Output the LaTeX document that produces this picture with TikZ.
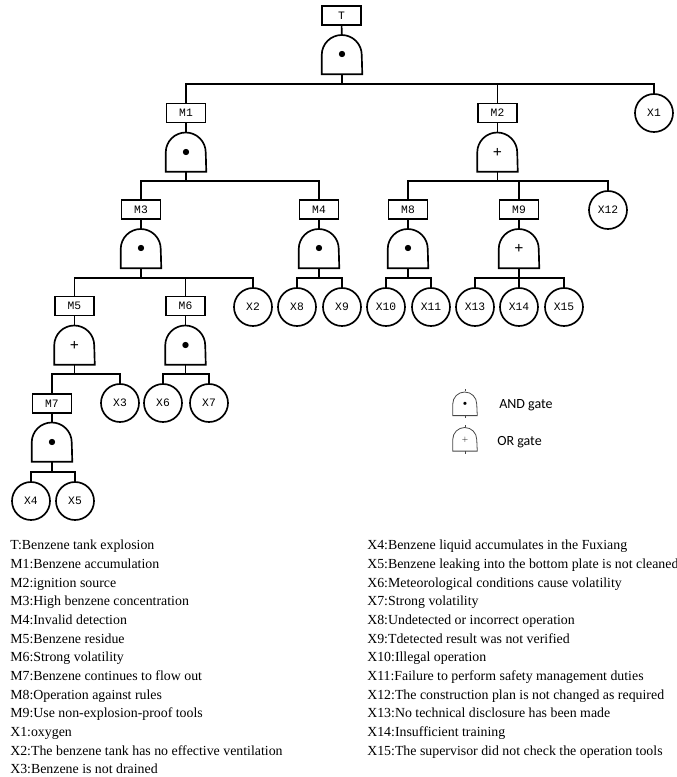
\documentclass[tikz,border=0pt]{standalone}
\usepackage{fontspec}
\setmainfont{Liberation Serif}
\setmonofont{Liberation Mono}
\newfontfamily\keyfont{Carlito}
\usetikzlibrary{positioning, calc}
\definecolor{iconline}{RGB}{70,70,70}
\begin{document}
\begin{tikzpicture}[x=0.75pt, y=-0.75pt,
  wire/.style={line width=1.25pt},
  evt/.style={draw, line width=1.25pt, minimum width=29.25pt, minimum height=14.25pt, inner sep=0pt, font=\ttfamily\fontsize{8.5}{8.5}\selectfont},
  basic/.style={draw, circle, line width=1.25pt, minimum size=28.5pt, inner sep=0pt, font=\ttfamily\fontsize{8.5}{8.5}\selectfont},
  gate/.style={minimum width=30pt, minimum height=28.5pt, inner sep=0pt, font=\bfseries\large},
  keygate/.style={minimum width=18pt, minimum height=17pt, inner sep=0pt, font=\tiny},
  keytext/.style={anchor=west, inner sep=0pt, font=\keyfont\fontsize{10.5}{12}\selectfont},
  desc/.style={anchor=north west, align=left, inner sep=0pt, font=\fontsize{10.4}{14}\selectfont}]
\useasboundingbox (0,0) rectangle (677,777);
\node[evt] (T) at (341.5,15.5) {T};
\node[gate] (gT) at (342,55) {$\bullet$};
\node[evt] (M1) at (186,113) {M1};
\node[gate] (gM1) at (186,152.5) {$\bullet$};
\node[evt] (M2) at (497.5,113) {M2};
\node[gate] (gM2) at (497.5,152.5) {+};
\node[basic] (X1) at (654,113) {X1};
\node[evt] (M3) at (141,209.5) {M3};
\node[gate] (gM3) at (141,249) {$\bullet$};
\node[evt] (M4) at (319,209.5) {M4};
\node[gate] (gM4) at (319,249) {$\bullet$};
\node[evt] (M8) at (408,209.5) {M8};
\node[gate] (gM8) at (408,249) {$\bullet$};
\node[evt] (M9) at (519,209.5) {M9};
\node[gate] (gM9) at (519,249) {+};
\node[basic] (X12) at (608,210) {X12};
\node[evt] (M5) at (74.5,306) {M5};
\node[gate] (gM5) at (74.5,345.5) {+};
\node[evt] (M6) at (185.5,306) {M6};
\node[gate] (gM6) at (185.5,345.5) {$\bullet$};
\node[basic] (X2) at (253,307) {X2};
\node[basic] (X8) at (297,307) {X8};
\node[basic] (X9) at (342,307) {X9};
\node[basic] (X10) at (386,307) {X10};
\node[basic] (X11) at (431,307) {X11};
\node[basic] (X13) at (475,307) {X13};
\node[basic] (X14) at (519,307) {X14};
\node[basic] (X15) at (564,307) {X15};
\node[evt] (M7) at (52,403.5) {M7};
\node[gate] (gM7) at (52,442.5) {$\bullet$};
\node[basic] (X3) at (120,403) {X3};
\node[basic] (X6) at (163,403) {X6};
\node[basic] (X7) at (209,403) {X7};
\node[basic] (X4) at (31,501) {X4};
\node[basic] (X5) at (75,501) {X5};
\foreach \g in {gT,gM1,gM2,gM3,gM4,gM5,gM6,gM7,gM8,gM9}
  \draw[wire] (\g.south west) -- (\g.west) arc[start angle=180, end angle=0, radius=15pt] -- (\g.south east) -- cycle;
\foreach \m in {T,M1,M2,M3,M4,M5,M6,M7,M8,M9}
  \draw[wire] (\m) -- (g\m);
\foreach \c in {M1,M2,X1}
  \draw[wire] (gT.south) -- ++(0,10) -| (\c);
\foreach \c in {M3,M4}
  \draw[wire] (gM1.south) -- ++(0,9.5) -| (\c);
\foreach \c in {M8,M9,X12}
  \draw[wire] (gM2.south) -- ++(0,9.5) -| (\c);
\foreach \c in {M5,M6,X2}
  \draw[wire] (gM3.south) -- ++(0,10) -| (\c);
\foreach \c in {X8,X9}
  \draw[wire] (gM4.south) -- ++(0,10) -| (\c);
\foreach \c in {X10,X11}
  \draw[wire] (gM8.south) -- ++(0,10) -| (\c);
\foreach \c in {X13,X14,X15}
  \draw[wire] (gM9.south) -- ++(0,10) -| (\c);
\foreach \c in {M7,X3}
  \draw[wire] (gM5.south) -- ++(0,9.5) -| (\c);
\foreach \c in {X6,X7}
  \draw[wire] (gM6.south) -- ++(0,9.5) -| (\c);
\foreach \c in {X4,X5}
  \draw[wire] (gM7.south) -- ++(0,10) -| (\c);
\node[keygate] (andkey) at (465,404) {$\bullet$};
\node[keygate] (orkey) at (465,439.5) {$+$};
\foreach \g in {andkey,orkey} {
  \draw[iconline, line width=0.6pt] (\g.south west) -- (\g.west) arc[start angle=180, end angle=0, radius=9pt] -- (\g.south east) -- cycle;
  \draw[iconline, line width=0.6pt] (\g.south) -- ++(0,2.5);
  \draw[iconline, line width=0.6pt] ($(\g.north)+(0,-1)$) -- ++(0,-2);
}
\node[keytext] (andtext) at (499,405) {AND gate};
\node[keytext] (ortext) at (497,442) {OR gate};
\node[desc] (keyleft) at (10,540) {T:Benzene tank explosion\\
M1:Benzene accumulation\\
M2:ignition source\\
M3:High benzene concentration\\
M4:Invalid detection\\
M5:Benzene residue\\
M6:Strong volatility\\
M7:Benzene continues to flow out\\
M8:Operation against rules\\
M9:Use non-explosion-proof tools\\
X1:oxygen\\
X2:The benzene tank has no effective ventilation\\
X3:Benzene is not drained};
\node[desc] (keyright) at (367,540) {X4:Benzene liquid accumulates in the Fuxiang\\
X5:Benzene leaking into the bottom plate is not cleaned\\
X6:Meteorological conditions cause volatility\\
X7:Strong volatility\\
X8:Undetected or incorrect operation\\
X9:Tdetected result was not verified\\
X10:Illegal operation\\
X11:Failure to perform safety management duties\\
X12:The construction plan is not changed as required\\
X13:No technical disclosure has been made\\
X14:Insufficient training\\
X15:The supervisor did not check the operation tools};
\end{tikzpicture}
\end{document}
